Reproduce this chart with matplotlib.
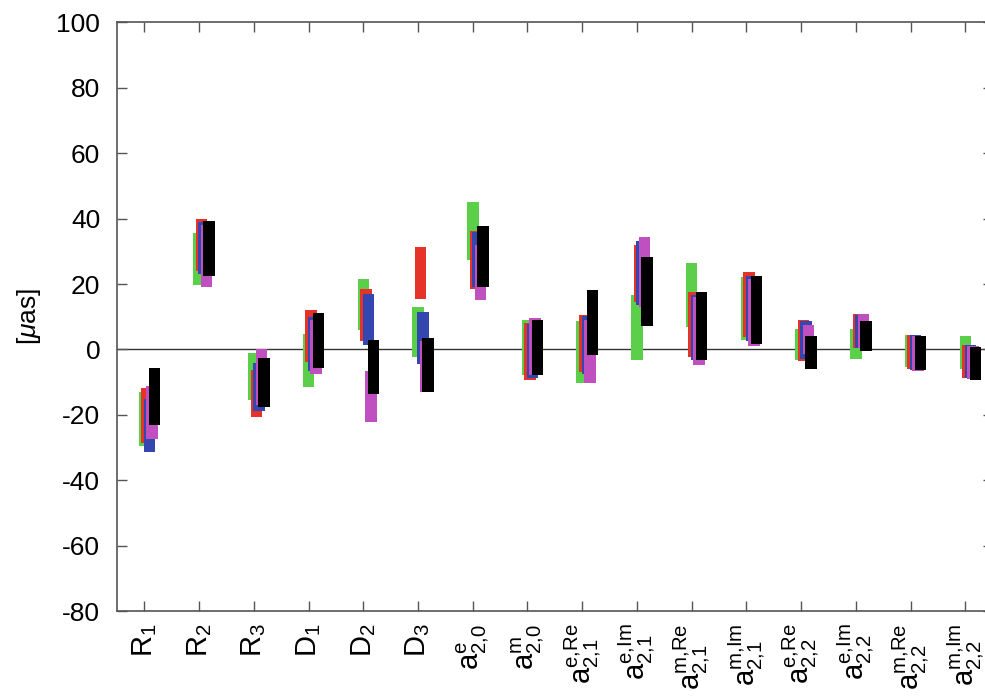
import matplotlib
matplotlib.use("Agg")
import matplotlib.pyplot as plt
import numpy as np

plt.rcParams['font.family'] = ['Liberation Sans', 'DejaVu Sans']
plt.rcParams['mathtext.fontset'] = 'custom'
plt.rcParams['mathtext.rm'] = 'Liberation Sans'
plt.rcParams['mathtext.it'] = 'Liberation Sans:italic'
plt.rcParams['mathtext.default'] = 'regular'
plt.rcParams['axes.unicode_minus'] = False

labels = [r'$R_1$', r'$R_2$', r'$R_3$', r'$D_1$', r'$D_2$', r'$D_3$',
          r'$a^{e}_{2{,}0}$', r'$a^{m}_{2{,}0}$',
          r'$a^{e{,}Re}_{2{,}1}$', r'$a^{e{,}Im}_{2{,}1}$',
          r'$a^{m{,}Re}_{2{,}1}$', r'$a^{m{,}Im}_{2{,}1}$',
          r'$a^{e{,}Re}_{2{,}2}$', r'$a^{e{,}Im}_{2{,}2}$',
          r'$a^{m{,}Re}_{2{,}2}$', r'$a^{m{,}Im}_{2{,}2}$']

# (low, high) ranges per category for each of the five series
green_lo = [-29.4, 19.8, -15.5, -11.4, 5.8, -2.3, 27.4, -7.9, -10.4, -3.3, 6.9, 2.8, -3.1, -2.8, -5.4, -5.9]
green_hi = [-13.1, 35.5, -1.0, 4.6, 21.5, 13.1, 45.1, 8.9, 8.7, 16.5, 26.4, 22.1, 6.3, 6.3, 4.5, 4.1]
red_lo = [-28.5, 24.1, -20.8, -3.8, 2.6, 15.5, 18.5, -9.2, -6.9, 14.5, -2.3, 3.8, -3.5, 0.5, -6.1, -8.7]
red_hi = [-11.9, 40.0, -6.3, 12.2, 18.5, 31.2, 36.3, 8.1, 10.4, 32.0, 17.7, 23.8, 9.1, 10.7, 4.5, 1.4]
blue_lo = [-31.5, 23.0, -18.7, -6.5, 1.3, -4.3, 19.2, -8.6, -7.4, 13.5, -3.3, 2.5, -3.0, 0.5, -6.3, -8.8]
blue_hi = [-15.0, 39.0, -4.1, 9.9, 17.0, 11.3, 36.0, 7.9, 10.1, 33.2, 16.5, 22.6, 8.6, 10.5, 4.3, 1.4]
magenta_lo = [-27.4, 19.2, -17.0, -7.4, -22.3, -13.1, 15.0, -7.9, -10.4, 13.0, -4.6, 1.0, -1.3, 0.5, -6.6, -9.0]
magenta_hi = [-11.1, 38.0, 0.0, 8.9, -6.5, 2.5, 32.0, 9.7, 9.0, 34.5, 16.0, 21.5, 7.6, 10.7, 4.1, 1.1]
black_lo = [-23.1, 22.6, -17.5, -5.8, -13.7, -13.1, 19.2, -7.9, -1.8, 7.1, -3.1, 1.8, -5.9, -0.6, -6.4, -9.4]
black_hi = [-5.8, 39.3, -2.5, 11.1, 3.0, 3.5, 37.9, 9.1, 18.2, 28.2, 17.5, 22.6, 4.0, 8.8, 4.1, 0.9]

series = [
    (green_lo, green_hi, '#5ccf4a'),
    (red_lo, red_hi, '#e6332a'),
    (blue_lo, blue_hi, '#3446b0'),
    (magenta_lo, magenta_hi, '#c04fc0'),
    (black_lo, black_hi, '#000000'),
]

fig = plt.figure(figsize=(9.85, 7), dpi=100)
ax = fig.add_axes([0.1188, 0.127, 0.889, 0.841])

x = np.arange(1, len(labels) + 1)
for i, (lo, hi, c) in enumerate(series):
    lo = np.array(lo)
    hi = np.array(hi)
    ax.bar(x + i * 0.046, hi - lo, bottom=lo, width=0.21, color=c, zorder=2 + i)

ax.axhline(0, color='#333333', lw=1.0, zorder=1)

ax.set_xlim(0.5, 16.5)
ax.set_ylim(-80, 100)
ax.set_yticks(np.arange(-80, 101, 20))
ax.set_xticks(x)
ax.set_xticklabels(labels, rotation=90, fontsize=21)
ax.tick_params(axis='both', direction='in', length=7, width=1, color='#555555',
               top=True, right=True)
ax.tick_params(axis='y', labelsize=19, pad=12)
ax.tick_params(axis='x', pad=9)
for s in ax.spines.values():
    s.set_color('#555555')
    s.set_linewidth(1.2)

ax.set_ylabel(r'[$\mathit{\mu}$as]', fontsize=19, labelpad=10)

fig.savefig('out.png', dpi=100)
